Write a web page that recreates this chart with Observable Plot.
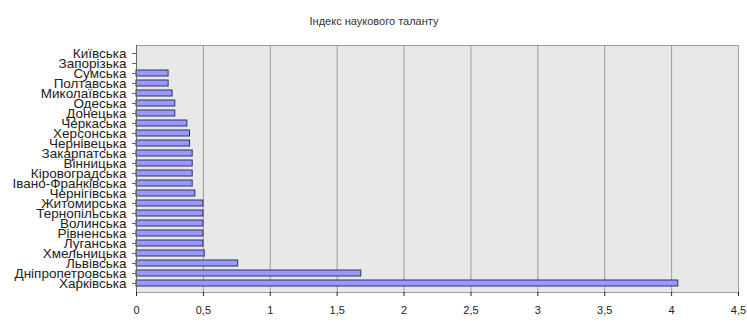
<!DOCTYPE html>
<html>
<head>
<meta charset="utf-8">
<script src="https://cdn.jsdelivr.net/npm/d3@7"></script>
<script src="https://cdn.jsdelivr.net/npm/@observablehq/plot@0.6"></script>
<style>
  body { margin: 0; background: #fff; }
  svg { font-family: "Liberation Sans", Arial, sans-serif; }
</style>
</head>
<body>
<div id="chart"></div>
<script>
// Regions, listed top to bottom as they appear on the category axis
const regions = [
  "Київська", "Запорізька", "Сумська", "Полтавська", "Миколаївська", "Одеська",
  "Донецька", "Черкаська", "Херсонська", "Чернівецька", "Закарпатська", "Вінницька",
  "Кіровоградська", "Івано-Франківська", "Чернігівська", "Житомирська", "Тернопільська",
  "Волинська", "Рівненська", "Луганська", "Хмельницька", "Львівська",
  "Дніпропетровська", "Харківська"
];

// Scientific talent index per region
const talentIndex = [
  0, 0, 0.24, 0.24, 0.27, 0.29,
  0.29, 0.38, 0.40, 0.40, 0.42, 0.42,
  0.42, 0.42, 0.44, 0.50, 0.50,
  0.50, 0.50, 0.50, 0.51, 0.76,
  1.68, 4.05
];

const xTicks = [0, 0.5, 1, 1.5, 2, 2.5, 3, 3.5, 4, 4.5];
const chartTitle = "Індекс наукового таланту";

const rows = regions.map((region, i) => ({region, value: talentIndex[i]}));
const fmt = d => String(d).replace(".", ",");

const W = 747, mL = 136, mR = 9;
// The title is centred on the whole chart, not on the plotting frame
const titleShift = W / 2 - (mL + (W - mL - mR) / 2);

const chart = Plot.plot({
  width: W,
  height: 325,
  marginLeft: mL,
  marginRight: mR,
  marginTop: 45,
  marginBottom: 33,
  style: {background: "#fff", color: "#222", fontSize: "11px"},
  x: {domain: [0, 4.5], ticks: xTicks, tickFormat: fmt, label: null, tickSize: 4, tickPadding: 10},
  y: {domain: regions, padding: 0.38, label: null, tickSize: 4, tickPadding: 6},
  marks: [
    Plot.frame({fill: "#e8e8e8", stroke: "none"}),
    Plot.gridX(xTicks.slice(1), {stroke: "#9a9a9a", strokeOpacity: 1}),
    Plot.frame({stroke: "#9a9a9a"}),
    Plot.barX(rows, {x: "value", y: "region", fill: "#9999ff", stroke: "#2e2e66", strokeWidth: 1}),
    Plot.axisY({tickSize: 4, tickPadding: 6, fontSize: 13.5, stroke: "#666", label: null}),
    Plot.axisX({ticks: xTicks, tickFormat: fmt, tickSize: 4, tickPadding: 10, fontSize: 11, label: null}),
    Plot.ruleX([0], {stroke: "#666"}),
    Plot.text([chartTitle], {frameAnchor: "top", dx: titleShift, dy: -28, fontSize: 11, fill: "#333"})
  ]
});

document.getElementById("chart").append(chart);
</script>
</body>
</html>
